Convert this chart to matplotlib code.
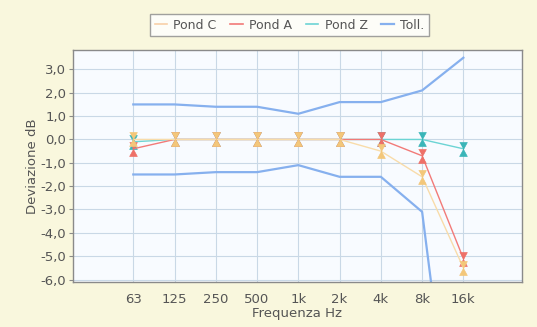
import matplotlib.pyplot as plt
from matplotlib.ticker import FuncFormatter

# frequency bands and deviations (dB)
bands = ["63", "125", "250", "500", "1k", "2k", "4k", "8k", "16k"]
pond_c = [0.0, 0.0, 0.0, 0.0, 0.0, 0.0, -0.5, -1.6, -5.5]
pond_a = [-0.4, 0.0, 0.0, 0.0, 0.0, 0.0, 0.0, -0.7, -5.1]
pond_z = [-0.1, 0.0, 0.0, 0.0, 0.0, 0.0, 0.0, 0.0, -0.4]
toll_up = [1.5, 1.5, 1.4, 1.4, 1.1, 1.6, 1.6, 2.1, 3.5]
toll_low = [-1.5, -1.5, -1.4, -1.4, -1.1, -1.6, -1.6, -3.1, -17.0]

bg = "#f9f7dd"
txt = "#555555"

# hourglass marker: triangle down on top, triangle up below
hourglass = [(-0.55, 1), (0.55, 1), (0, 0), (-0.55, -1), (0.55, -1), (0, 0)]

fig = plt.figure(figsize=(5.37, 3.27), dpi=100, facecolor=bg)
ax = fig.add_axes([0.136, 0.138, 0.836, 0.709])
ax.set_facecolor("#f8fbff")

x = list(range(len(bands)))

ax.plot(x, toll_up, color="#86b0ee", lw=1.6, zorder=2)
ax.plot(x, toll_low, color="#86b0ee", lw=1.6, zorder=2)

ax.plot(x, pond_z, color="#6cd4d4", lw=1.0, marker=hourglass, ms=10,
        mfc="#3ab5b8", mec="#3ab5b8", mew=0.5, zorder=3)
ax.plot(x, pond_a, color="#f27a78", lw=1.0, marker=hourglass, ms=10,
        mfc="#ee7068", mec="#ee7068", mew=0.5, zorder=4)
ax.plot(x, pond_c, color="#f8dcaa", lw=1.0, marker=hourglass, ms=10,
        mfc="#f3c77a", mec="#f3c77a", mew=0.5, zorder=5)

ax.set_xlim(-1.46, 9.42)
ax.set_ylim(-6.1, 3.83)
ax.set_xticks(x)
ax.set_xticklabels(bands)
ax.set_yticks(range(-6, 4))
ax.yaxis.set_major_formatter(FuncFormatter(lambda v, p: f"{v:.1f}".replace(".", ",")))

ax.grid(True, color="#c9d8e6", lw=0.8)
ax.set_axisbelow(True)
for s in ax.spines.values():
    s.set_color("#8a8a8a")
    s.set_linewidth(1.0)

ax.tick_params(axis="x", length=0, pad=8, labelsize=9.5, labelcolor=txt)
ax.tick_params(axis="y", length=3, color="#8a8a8a", pad=2, labelsize=9.5, labelcolor=txt)

ax.set_xlabel("Frequenza Hz", fontsize=9.5, color=txt, labelpad=1)
ax.set_ylabel("Deviazione dB", fontsize=9.5, color=txt, labelpad=1)

# legend with plain line handles
handles = [
    plt.Line2D([], [], color="#f8d0a8", lw=1.2),
    plt.Line2D([], [], color="#f27a78", lw=1.2),
    plt.Line2D([], [], color="#6cd4d4", lw=1.2),
    plt.Line2D([], [], color="#86b0ee", lw=1.6),
]
leg = fig.legend(handles, ["Pond C", "Pond A", "Pond Z", "Toll."], ncol=4,
                 loc="upper left", bbox_to_anchor=(0.268, 0.975),
                 frameon=True, fancybox=False, fontsize=9,
                 handlelength=1.0, handletextpad=0.5, columnspacing=1.1,
                 borderpad=0.35, labelcolor=txt)
leg.get_frame().set_edgecolor("#8a8a8a")
leg.get_frame().set_facecolor("white")
leg.get_frame().set_linewidth(1.0)

fig.savefig("out.png", dpi=100, facecolor=bg)
